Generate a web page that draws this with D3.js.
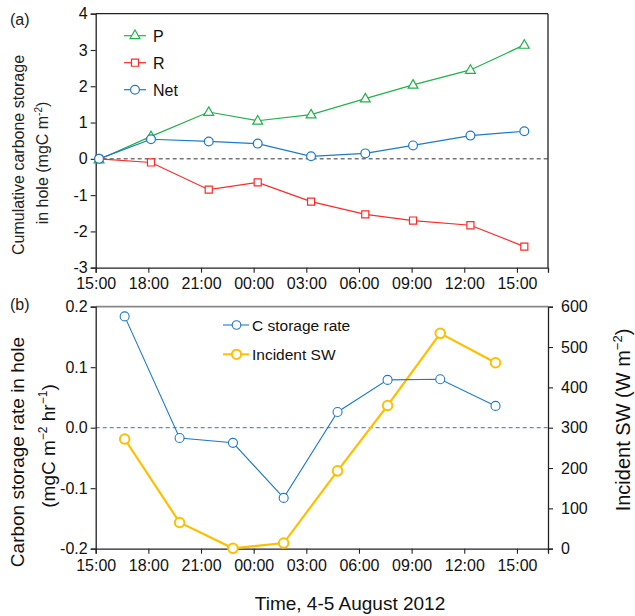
<!DOCTYPE html>
<html><head><meta charset="utf-8">
<script src="https://cdn.jsdelivr.net/npm/d3@7"></script>
<style>body{margin:0;background:#fff}svg{display:block;font-family:"Liberation Sans",Arial,sans-serif}</style>
</head><body><svg id="c" width="635" height="616"></svg>
<script>
// hours after 15:00 on 4 Aug 2012
const xTickHours = [0,3,6,9,12,15,18,21,24];
const xTickLabels = ["15:00","18:00","21:00","00:00","03:00","06:00","09:00","12:00","15:00"];
const timesA = [0.19,3.15,6.44,9.23,12.27,15.36,18.08,21.35,24.42];
const P   = [-0.02,0.62,1.29,1.05,1.22,1.66,2.04,2.45,3.14];
const R   = [0,-0.10,-0.85,-0.65,-1.18,-1.53,-1.70,-1.83,-2.42];
const Net = [0,0.54,0.48,0.42,0.07,0.15,0.37,0.64,0.76];
const timesB = [1.65,4.78,7.82,10.71,13.78,16.63,19.63,22.78];
const cRate = [0.184,-0.017,-0.025,-0.116,0.026,0.079,0.080,0.036];
const sw    = [272,65,1,14,193,355,534,461];
const yTicksA = [-3,-2,-1,0,1,2,3,4];
const yTicksB = [-0.2,-0.1,0,0.1,0.2];
const yTicksB2 = [0,100,200,300,400,500,600];

const svg = d3.select("#c");
const L = 95.7, Rr = 548;
const x = d3.scaleLinear().domain([0,25.77]).range([L,Rr]);

const green="#22b14c", red="#ff2a2a", blue="#1f7ac6", orange="#ffbf00";

// ---------- Panel (a)
const yA = d3.scaleLinear().domain([-3,4]).range([267.7,13.7]);
const gA = svg.append("g");
gA.append("line").attr("x1",L).attr("x2",Rr).attr("y1",yA(0)).attr("y2",yA(0))
  .attr("stroke","#333").attr("stroke-dasharray","4,3").attr("stroke-width",1);
gA.append("g").attr("transform",`translate(${L},0)`)
  .call(d3.axisLeft(yA).tickValues(yTicksA).tickFormat(d=>String(d)).tickSize(5).tickPadding(3));
gA.append("g").attr("transform",`translate(0,${yA(-3)})`)
  .call(d3.axisBottom(x).tickValues(xTickHours).tickFormat((d,i)=>xTickLabels[i]).tickSize(5).tickPadding(5));
gA.append("line").attr("x1",L).attr("x2",Rr).attr("y1",yA(4)).attr("y2",yA(4)).attr("stroke","#222").attr("stroke-width",1.3);
gA.append("line").attr("x1",Rr).attr("x2",Rr).attr("y1",yA(4)).attr("y2",yA(-3)).attr("stroke","#222").attr("stroke-width",1.3);

function line(g, xs, ys, xsc, ysc, color, w){
  g.append("path").datum(xs.map((t,i)=>[t,ys[i]]))
   .attr("d", d3.line().x(d=>xsc(d[0])).y(d=>ysc(d[1])))
   .attr("fill","none").attr("stroke",color).attr("stroke-width",w);
}
line(gA,timesA,P,x,yA,green,1.2);
line(gA,timesA,R,x,yA,red,1.2);
line(gA,timesA,Net,x,yA,blue,1.2);
const tri = d3.symbol().type(d3.symbolTriangle).size(42);
const sq = d3.symbol().type(d3.symbolSquare).size(50);
timesA.forEach((t,i)=>{
  gA.append("path").attr("d",sq()).attr("transform",`translate(${x(t)},${yA(R[i])})`).attr("fill","#fff").attr("stroke",red).attr("stroke-width",1.2);
});
timesA.forEach((t,i)=>{
  gA.append("path").attr("d",tri()).attr("transform",`translate(${x(t)},${yA(P[i])+0.5})`).attr("fill","#fff").attr("stroke",green).attr("stroke-width",1.2);
});
timesA.forEach((t,i)=>{
  gA.append("circle").attr("cx",x(t)).attr("cy",yA(Net[i])).attr("r",4.4).attr("fill","#fff").attr("stroke",blue).attr("stroke-width",1.2);
});
// legend a
const legA=[["P",green,"tri"],["R",red,"sq"],["Net",blue,"circ"]];
legA.forEach((d,i)=>{
  const yy = 35.7 + i*27;
  gA.append("line").attr("x1",124).attr("x2",146).attr("y1",yy).attr("y2",yy).attr("stroke",d[1]).attr("stroke-width",1.2);
  if(d[2]==="tri") gA.append("path").attr("d",tri()).attr("transform",`translate(135,${yy})`).attr("fill","#fff").attr("stroke",d[1]).attr("stroke-width",1.2);
  if(d[2]==="sq") gA.append("path").attr("d",sq()).attr("transform",`translate(135,${yy})`).attr("fill","#fff").attr("stroke",d[1]).attr("stroke-width",1.2);
  if(d[2]==="circ") gA.append("circle").attr("cx",135).attr("cy",yy).attr("r",4.4).attr("fill","#fff").attr("stroke",d[1]).attr("stroke-width",1.2);
  gA.append("text").attr("x",153).attr("y",yy+5.8).attr("font-size",16).attr("fill","#111").text(d[0]);
});
gA.append("text").attr("x",10).attr("y",25).attr("font-size",16).attr("fill","#222").text("(a)");
gA.append("text").attr("transform","translate(24,155) rotate(-90)").attr("text-anchor","middle").attr("font-size",16).attr("fill","#222").text("Cumulative carbone storage");
const tA2 = gA.append("text").attr("transform","translate(48,163) rotate(-90)").attr("text-anchor","middle").attr("font-size",16).attr("fill","#222");
tA2.append("tspan").text("in hole (mgC m");
tA2.append("tspan").attr("dy",-6).attr("font-size",10).text("-2");
tA2.append("tspan").attr("dy",6).text(")");

// ---------- Panel (b)
const yB = d3.scaleLinear().domain([-0.2,0.2]).range([548.7,306.7]);
const yB2 = d3.scaleLinear().domain([0,600]).range([548.7,306.7]);
const gB = svg.append("g");
gB.append("line").attr("x1",L).attr("x2",Rr).attr("y1",yB(0)).attr("y2",yB(0))
  .attr("stroke",blue).attr("stroke-dasharray","4,3").attr("stroke-width",1);
gB.append("line").attr("x1",L).attr("x2",Rr).attr("y1",yB(0.2)).attr("y2",yB(0.2)).attr("stroke","#888").attr("stroke-width",1.8);
gB.append("g").attr("transform",`translate(${L},0)`)
  .call(d3.axisLeft(yB).tickValues(yTicksB).tickFormat(d=>d.toFixed(1).replace("−","-")).tickSize(5).tickPadding(3));
gB.append("g").attr("transform",`translate(0,${yB(-0.2)})`)
  .call(d3.axisBottom(x).tickValues(xTickHours).tickFormat((d,i)=>xTickLabels[i]).tickSize(5).tickPadding(6));
gB.append("g").attr("transform",`translate(${Rr},0)`)
  .call(d3.axisRight(yB2).tickValues(yTicksB2).tickFormat(d=>String(d)).tickSize(5).tickPadding(8));
line(gB,timesB,sw,x,yB2,orange,2.2);
line(gB,timesB,cRate,x,yB,blue,1.1);
timesB.forEach((t,i)=>{
  gB.append("circle").attr("cx",x(t)).attr("cy",yB2(sw[i])).attr("r",4.8).attr("fill","#fff").attr("stroke",orange).attr("stroke-width",2);
});
timesB.forEach((t,i)=>{
  gB.append("circle").attr("cx",x(t)).attr("cy",yB(cRate[i])).attr("r",4.5).attr("fill","#fff").attr("stroke",blue).attr("stroke-width",1.1);
});
const legB=[["C storage rate",blue,1.1,4.3],["Incident SW",orange,2,4.6]];
legB.forEach((d,i)=>{
  const yy = 325 + i*29.3;
  gB.append("line").attr("x1",223).attr("x2",249).attr("y1",yy).attr("y2",yy).attr("stroke",d[1]).attr("stroke-width",d[2]);
  gB.append("circle").attr("cx",236.5).attr("cy",yy).attr("r",d[3]).attr("fill","#fff").attr("stroke",d[1]).attr("stroke-width",d[2]);
  gB.append("text").attr("x",252).attr("y",yy+5.5).attr("font-size",15.5).attr("fill","#111").text(d[0]);
});
gB.append("text").attr("x",10).attr("y",310).attr("font-size",16).attr("fill","#222").text("(b)");
gB.append("text").attr("transform","translate(24,452) rotate(-90)").attr("text-anchor","middle").attr("font-size",19).attr("fill","#111").text("Carbon storage rate in hole");
const tB2 = gB.append("text").attr("transform","translate(55,446) rotate(-90)").attr("text-anchor","middle").attr("font-size",19).attr("fill","#111");
tB2.append("tspan").text("(mgC m");
tB2.append("tspan").attr("dy",-8).attr("font-size",12).text("\u22122");
tB2.append("tspan").attr("dy",8).text(" hr");
tB2.append("tspan").attr("dy",-8).attr("font-size",12).text("\u22121");
tB2.append("tspan").attr("dy",8).text(")");
const tR = gB.append("text").attr("transform","translate(630,420) rotate(-90)").attr("text-anchor","middle").attr("font-size",20).attr("fill","#111");
tR.append("tspan").text("Incident SW (W m");
tR.append("tspan").attr("dy",-8).attr("font-size",13).text("\u22122");
tR.append("tspan").attr("dy",8).text(")");
gB.append("text").attr("x",350).attr("y",610).attr("text-anchor","middle").attr("font-size",19).attr("fill","#111").text("Time, 4-5 August 2012");

svg.selectAll(".tick text").attr("font-size",16).attr("fill","#111").attr("font-family","Liberation Sans, Arial, sans-serif");
svg.selectAll(".domain").attr("stroke","#222").attr("stroke-width",1.3);
svg.selectAll(".tick line").attr("stroke","#222").attr("stroke-width",1.1);
</script></body></html>
